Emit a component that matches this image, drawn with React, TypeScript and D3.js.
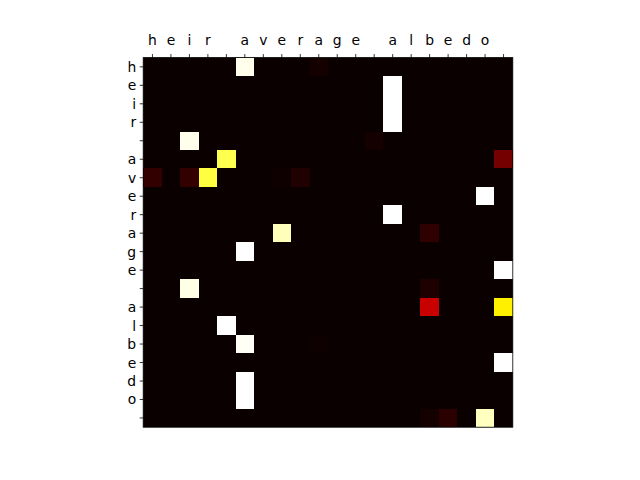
import * as d3 from 'd3'

// token labels along both axes (space tokens show as blank ticks)
const rowTokens = ['h', 'e', 'i', 'r', ' ', 'a', 'v', 'e', 'r', 'a', 'g', 'e', ' ', 'a', 'l', 'b', 'e', 'd', 'o', ' ']
const colTokens = ['h', 'e', 'i', 'r', ' ', 'a', 'v', 'e', 'r', 'a', 'g', 'e', ' ', 'a', 'l', 'b', 'e', 'd', 'o', ' ']

// non-background attention weights: [row, col, value]; every other cell is ~0
const weights: [number, number, number][] = [
  [0, 5, 0.98], [0, 9, 0.015],
  [1, 13, 1.0], [2, 13, 1.0], [3, 13, 1.0],
  [4, 2, 0.98], [4, 12, 0.015],
  [5, 4, 0.825], [5, 19, 0.157],
  [6, 0, 0.06], [6, 2, 0.06], [6, 3, 0.81], [6, 7, 0.004], [6, 8, 0.032],
  [7, 18, 1.0],
  [8, 13, 1.0],
  [9, 7, 0.93], [9, 15, 0.053],
  [10, 5, 1.0],
  [11, 19, 1.0],
  [12, 2, 0.975], [12, 15, 0.029],
  [13, 15, 0.283], [13, 19, 0.723],
  [14, 4, 1.0],
  [15, 5, 0.99], [15, 9, 0.006],
  [16, 19, 1.0],
  [17, 5, 1.0],
  [18, 5, 1.0],
  [19, 15, 0.015], [19, 16, 0.047], [19, 18, 0.937],
]

export default function App() {
  const W = 640
  const H = 480
  const side = 369.6
  const top = 57.6
  const left = (W - side) / 2 + 8

  const x = d3.scaleBand<number>().domain(d3.range(colTokens.length)).range([left, left + side])
  const y = d3.scaleBand<number>().domain(d3.range(rowTokens.length)).range([top, top + side])

  // matplotlib "hot"
  const hot = d3.scaleLinear<string>()
    .domain([0, 0.365079, 0.746032, 1])
    .range(['#0b0000', '#ff0000', '#ffff00', '#ffffff'])
    .clamp(true)

  const font = 'DejaVu Sans, sans-serif'
  const tickLen = 3.5

  return (
    <svg width={W} height={H} style={{ position: 'absolute', left: 0, top: 0 }}>
      <rect x={0} y={0} width={W} height={H} fill="#fff" />
      <rect x={left} y={top} width={side} height={side} fill={hot(0)} />
      <g shapeRendering="crispEdges">
        {weights.map(([r, c, v], i) => (
          <rect key={i} x={x(c)} y={y(r)} width={x.bandwidth()} height={y.bandwidth()} fill={hot(v)} />
        ))}
      </g>
      <rect x={left} y={top} width={side} height={side} fill="none" stroke="#000" strokeWidth={0.8} />

      {colTokens.map((t, i) => {
        const cx = (x(i) as number) + x.bandwidth() / 2
        return (
          <g key={'c' + i}>
            <line x1={cx} x2={cx} y1={top} y2={top - tickLen} stroke="#000" strokeWidth={0.8} />
            <text x={cx} y={top - 12.5} textAnchor="middle" fontFamily={font} fontSize={13.9}>{t}</text>
          </g>
        )
      })}

      {rowTokens.map((t, i) => {
        const cy = (y(i) as number) + y.bandwidth() / 2
        return (
          <g key={'r' + i}>
            <line x1={left} x2={left - tickLen} y1={cy} y2={cy} stroke="#000" strokeWidth={0.8} />
            <text x={left - 7} y={cy} dy="0.36em" textAnchor="end" fontFamily={font} fontSize={13.9}>{t}</text>
          </g>
        )
      })}
    </svg>
  )
}
